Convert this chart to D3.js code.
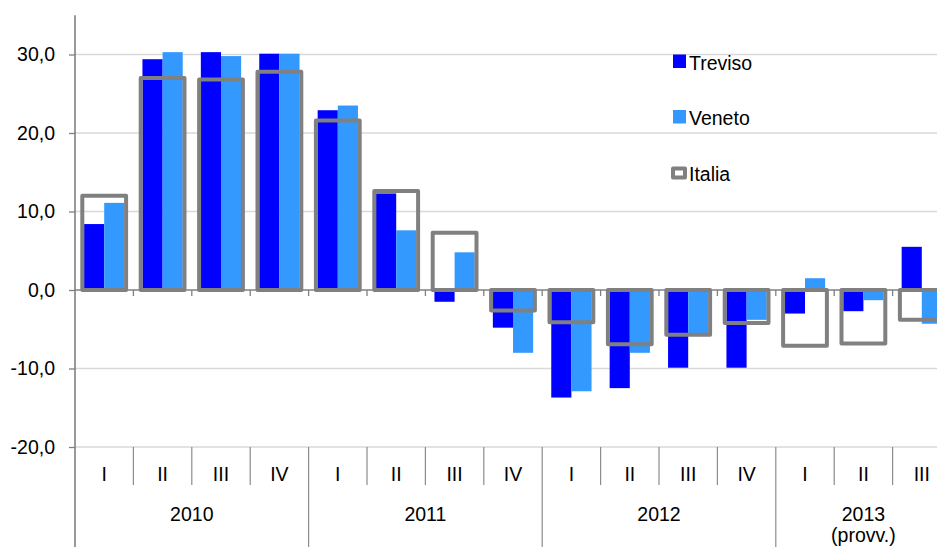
<!DOCTYPE html>
<html>
<head>
<meta charset="utf-8">
<script src="https://cdn.jsdelivr.net/npm/d3@7"></script>
<style>
  body { margin: 0; background: #fff; }
  svg { display: block; font-family: "Liberation Sans", Arial, sans-serif; }
</style>
</head>
<body>
<div id="chart"></div>
<script>
// quarters and years for the two-level category axis
var quarters = ['I', 'II', 'III', 'IV', 'I', 'II', 'III', 'IV', 'I', 'II', 'III', 'IV', 'I', 'II', 'III'];
var years = ['2010', '2011', '2012', '2013'];
var yearSub = ['', '', '', '(provv.)'];
var yearLength = [4, 4, 4, 3];

// series values (%)
var treviso = [8.4, 29.4, 30.3, 30.1, 22.9, 12.3, -1.5, -4.8, -13.7, -12.5, -9.9, -9.9, -3.0, -2.7, 5.5];
var veneto = [11.1, 30.3, 29.8, 30.1, 23.5, 7.6, 4.8, -8.0, -12.9, -8.0, -5.5, -3.8, 1.5, -1.3, -4.3];
var italia = [12.0, 27.0, 26.8, 27.8, 21.6, 12.6, 7.3, -2.6, -4.1, -6.9, -5.7, -4.2, -7.1, -6.8, -3.8];

var yTicks = [-20, -10, 0, 10, 20, 30];

var W = 937, H = 547;
var plotLeft = 75, plotRight = 951, plotTop = 15.25, plotBottom = 447;

var colors = { treviso: '#0000ff', veneto: '#3399ff', italia: '#808080' };
var fontSize = '19.5px';

var it = d3.formatLocale({ decimal: ',', thousands: '.', grouping: [3], currency: ['', '€'], minus: '-' });
var fmt = it.format('.1f');

var svg = d3.select('#chart').append('svg')
  .attr('width', W)
  .attr('height', H);

var x = d3.scaleBand()
  .domain(d3.range(quarters.length))
  .range([plotLeft, plotRight])
  .padding(0);

var y = d3.scaleLinear()
  .domain([-20, 35])
  .range([plotBottom, plotTop]);

var bw = x.bandwidth();
var barW = bw * 0.345;
var boxW = bw * 0.75;

// gridlines
svg.append('g')
  .selectAll('line.grid')
  .data(yTicks.filter(function (d) { return d !== 0; }))
  .enter().append('line')
  .attr('class', 'grid')
  .attr('x1', plotLeft).attr('x2', W)
  .attr('y1', function (d) { return y(d); })
  .attr('y2', function (d) { return y(d); })
  .attr('stroke', '#d9d9d9')
  .attr('stroke-width', 1.3);

// y axis
var yAxis = svg.append('g')
  .attr('transform', 'translate(' + plotLeft + ',0)')
  .call(d3.axisLeft(y).tickValues(yTicks).tickSize(6).tickPadding(14).tickFormat(fmt));
yAxis.select('.domain').remove();
yAxis.selectAll('.tick line').attr('stroke', '#808080').attr('stroke-width', 1.3);
yAxis.selectAll('.tick text')
  .attr('fill', '#000')
  .style('font-size', fontSize)
  .style('font-family', '"Liberation Sans", Arial, sans-serif');

svg.append('line')
  .attr('x1', plotLeft).attr('x2', plotLeft)
  .attr('y1', plotTop).attr('y2', H)
  .attr('stroke', '#808080')
  .attr('stroke-width', 1.6);

// zero line with small category ticks
svg.append('line')
  .attr('x1', plotLeft).attr('x2', plotRight)
  .attr('y1', y(0)).attr('y2', y(0))
  .attr('stroke', '#808080')
  .attr('stroke-width', 1.3);

svg.append('g')
  .selectAll('line')
  .data(d3.range(1, quarters.length + 1))
  .enter().append('line')
  .attr('x1', function (i) { return plotLeft + i * bw; })
  .attr('x2', function (i) { return plotLeft + i * bw; })
  .attr('y1', y(0))
  .attr('y2', y(0) + 6)
  .attr('stroke', '#808080')
  .attr('stroke-width', 1.3);

// bars
var bars = svg.append('g');
bars.selectAll('rect.treviso')
  .data(treviso).enter().append('rect')
  .attr('class', 'treviso')
  .attr('x', function (d, i) { return x(i) + bw / 2 - barW; })
  .attr('width', barW)
  .attr('y', function (d) { return y(Math.max(0, d)); })
  .attr('height', function (d) { return Math.abs(y(d) - y(0)); })
  .attr('fill', colors.treviso);

bars.selectAll('rect.veneto')
  .data(veneto).enter().append('rect')
  .attr('class', 'veneto')
  .attr('x', function (d, i) { return x(i) + bw / 2; })
  .attr('width', barW)
  .attr('y', function (d) { return y(Math.max(0, d)); })
  .attr('height', function (d) { return Math.abs(y(d) - y(0)); })
  .attr('fill', colors.veneto);

// Italia as outlined boxes on top
bars.selectAll('rect.italia')
  .data(italia).enter().append('rect')
  .attr('class', 'italia')
  .attr('x', function (d, i) { return x(i) + (bw - boxW) / 2; })
  .attr('width', boxW)
  .attr('y', function (d) { return y(Math.max(0, d)); })
  .attr('height', function (d) { return Math.abs(y(d) - y(0)); })
  .attr('fill', 'none')
  .attr('stroke', colors.italia)
  .attr('stroke-width', 4)
  .attr('stroke-linejoin', 'round');

// category table at the bottom
var yearStarts = [];
var acc = 0;
yearLength.forEach(function (n) { yearStarts.push(acc); acc += n; });

svg.append('g')
  .selectAll('line')
  .data(d3.range(1, quarters.length))
  .enter().append('line')
  .attr('x1', function (i) { return plotLeft + i * bw; })
  .attr('x2', function (i) { return plotLeft + i * bw; })
  .attr('y1', plotBottom)
  .attr('y2', function (i) { return yearStarts.indexOf(i) >= 0 ? H : 485; })
  .attr('stroke', '#8c8c8c')
  .attr('stroke-width', 1.2);

svg.append('g')
  .selectAll('text')
  .data(quarters).enter().append('text')
  .attr('x', function (d, i) { return x(i) + bw / 2; })
  .attr('y', 481)
  .attr('text-anchor', 'middle')
  .style('font-size', fontSize)
  .text(function (d) { return d; });

var yr = svg.append('g')
  .selectAll('g')
  .data(years).enter().append('g');
yr.append('text')
  .attr('x', function (d, i) { return plotLeft + (yearStarts[i] + yearLength[i] / 2) * bw; })
  .attr('y', 520.5)
  .attr('text-anchor', 'middle')
  .style('font-size', fontSize)
  .text(function (d) { return d; });
yr.append('text')
  .attr('x', function (d, i) { return plotLeft + (yearStarts[i] + yearLength[i] / 2) * bw; })
  .attr('y', 542)
  .attr('text-anchor', 'middle')
  .style('font-size', fontSize)
  .text(function (d, i) { return yearSub[i]; });

// legend
var legend = svg.append('g');
var legendItems = [
  { name: 'Treviso', key: 'treviso' },
  { name: 'Veneto', key: 'veneto' },
  { name: 'Italia', key: 'italia' }
];
legendItems.forEach(function (d, i) {
  var ly = 54.5 + i * 55.5;
  if (d.key === 'italia') {
    legend.append('rect')
      .attr('x', 673).attr('y', ly + 3)
      .attr('width', 12).attr('height', 9)
      .attr('fill', '#fff')
      .attr('stroke', colors.italia)
      .attr('stroke-width', 4)
      .attr('stroke-linejoin', 'round');
  } else {
    legend.append('rect')
      .attr('x', 673).attr('y', ly)
      .attr('width', 13).attr('height', 13.5)
      .attr('fill', colors[d.key]);
  }
  legend.append('text')
    .attr('x', 689)
    .attr('y', ly + 15)
    .style('font-size', fontSize)
    .text(d.name);
});
</script>
</body>
</html>
